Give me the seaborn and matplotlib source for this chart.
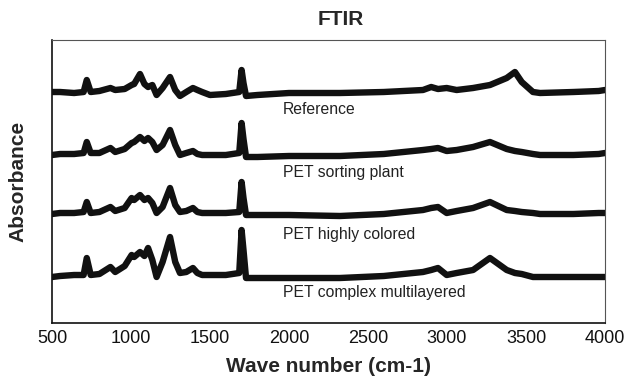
import pandas as pd
import seaborn as sns
import matplotlib.pyplot as plt

wave = [500, 551, 640, 700, 720, 745, 800, 870, 900, 960, 1004, 1020, 1057, 1085, 1108, 1135,
        1162, 1200, 1247, 1280, 1310, 1350, 1392, 1420, 1450, 1500, 1600, 1685, 1700, 1712,
        1728, 1800, 2000, 2323, 2600, 2848, 2900, 2943, 2998, 3061, 3165, 3272, 3378, 3430,
        3473, 3544, 3589, 3800, 3960, 4000]

reference = [0.01, 0.01, 0.00, 0.01, 0.13, 0.01, 0.02, 0.05, 0.03, 0.04, 0.08, 0.09, 0.19, 0.09,
             0.06, 0.08, -0.02, 0.05, 0.16, 0.03, -0.03, 0.01, 0.05, 0.03, 0.01, -0.02, -0.01,
             0.01, 0.23, 0.10, -0.03, -0.02, 0.00, 0.00, 0.01, 0.03, 0.06, 0.04, 0.05, 0.03,
             0.05, 0.08, 0.15, 0.21, 0.11, 0.01, 0.00, 0.01, 0.02, 0.03]

sorting_plant = [0.00, 0.01, 0.01, 0.02, 0.13, 0.02, 0.02, 0.07, 0.03, 0.06, 0.12, 0.13, 0.18,
                 0.14, 0.17, 0.13, 0.05, 0.10, 0.25, 0.10, 0.00, 0.02, 0.04, 0.01, 0.00, 0.00,
                 0.00, 0.02, 0.32, 0.16, -0.02, -0.02, -0.01, -0.01, 0.01, 0.05, 0.06, 0.07,
                 0.04, 0.05, 0.08, 0.13, 0.06, 0.04, 0.03, 0.01, 0.00, 0.00, 0.01, 0.02]

highly_colored = [0.00, 0.01, 0.01, 0.02, 0.12, 0.01, 0.02, 0.07, 0.03, 0.06, 0.16, 0.14, 0.19,
                  0.14, 0.16, 0.11, 0.01, 0.07, 0.26, 0.09, 0.02, 0.03, 0.06, 0.02, 0.01, 0.01,
                  0.01, 0.02, 0.32, 0.16, -0.01, -0.01, -0.01, -0.02, 0.00, 0.04, 0.06, 0.07,
                  0.01, 0.03, 0.06, 0.12, 0.04, 0.03, 0.02, 0.01, 0.00, 0.00, 0.01, 0.01]

complex_multi = [0.00, 0.01, 0.02, 0.02, 0.19, 0.02, 0.03, 0.10, 0.05, 0.11, 0.22, 0.20, 0.25,
                 0.21, 0.29, 0.17, 0.00, 0.15, 0.40, 0.15, 0.04, 0.05, 0.09, 0.04, 0.02, 0.02,
                 0.02, 0.04, 0.47, 0.27, -0.01, -0.01, -0.01, -0.01, 0.01, 0.05, 0.07, 0.09,
                 0.02, 0.04, 0.07, 0.19, 0.07, 0.04, 0.03, 0.00, 0.00, 0.00, 0.00, 0.00]

names = ['Reference', 'PET sorting plant', 'PET highly colored', 'PET complex multilayered']
offsets = [2.30, 1.68, 1.09, 0.46]
label_y = [2.13, 1.51, 0.88, 0.30]

sns.set_theme(style='white')
plt.rcParams['font.family'] = ['Liberation Sans', 'DejaVu Sans']

fig, ax = plt.subplots(figsize=(6.3, 3.76), dpi=100)
fig.subplots_adjust(left=52/630, right=605/630, top=1-40/376, bottom=1-323/376)

for name, vals, off, ly in zip(names, [reference, sorting_plant, highly_colored, complex_multi],
                               offsets, label_y):
    df = pd.DataFrame({'wave': wave, 'abs': [v + off for v in vals]})
    sns.lineplot(x='wave', y='abs', data=df, ax=ax, color='#111111', linewidth=4.6,
                 solid_joinstyle='round', solid_capstyle='round')
    ax.text(1960, ly, name, fontsize=11.3, va='center', ha='left', color='#222222')

ax.set_xlim(500, 4000)
ax.set_ylim(0, 2.83)
ax.set_xticks(range(500, 4001, 500))
ax.set_yticks([])
ax.tick_params(axis='x', length=0, pad=5, labelsize=13, colors='#111111')
ax.set_xlabel('Wave number (cm-1)', fontsize=15, fontweight='bold', labelpad=7)
ax.set_ylabel('Absorbance', fontsize=15, fontweight='bold', labelpad=18)
ax.set_title('FTIR', fontsize=15, fontweight='bold', x=0.523, pad=11)

for side in ['top', 'right']:
    ax.spines[side].set_color('#555555')
    ax.spines[side].set_linewidth(0.8)
for side in ['bottom', 'left']:
    ax.spines[side].set_color('#111111')
    ax.spines[side].set_linewidth(1.2)

plt.savefig('out.png', dpi=100)
